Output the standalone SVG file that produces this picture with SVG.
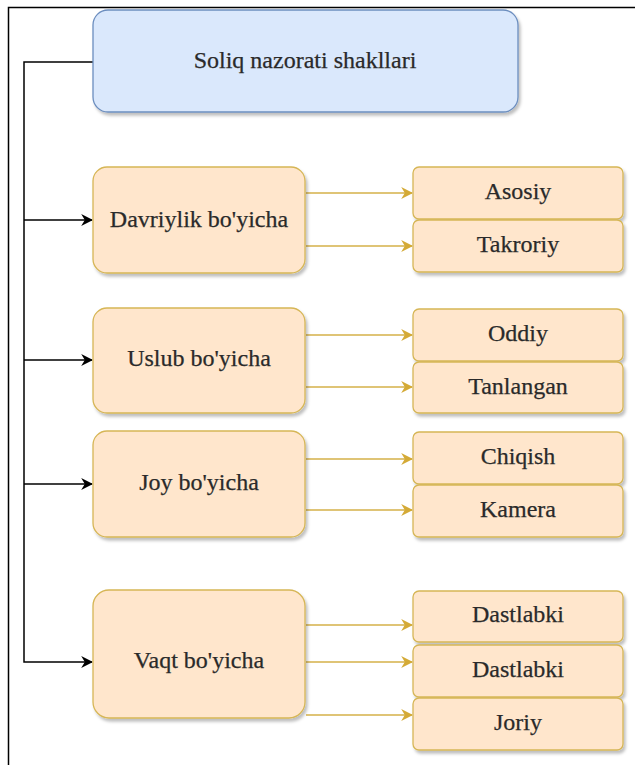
<svg xmlns="http://www.w3.org/2000/svg" width="635" height="765" viewBox="0 0 635 765">
<defs>
<filter id="sh" x="-10%" y="-10%" width="130%" height="140%">
<feDropShadow dx="2" dy="3" stdDeviation="1.5" flood-color="#000" flood-opacity="0.25"/>
</filter>
<marker id="ab" viewBox="0 0 10 10" refX="9" refY="5" markerWidth="12" markerHeight="12" markerUnits="userSpaceOnUse" orient="auto">
<path d="M0,0 L10,5 L0,10 L3,5 Z" fill="#000"/>
</marker>
<marker id="ay" viewBox="0 0 10 10" refX="9" refY="5" markerWidth="12" markerHeight="12" markerUnits="userSpaceOnUse" orient="auto">
<path d="M0,0 L10,5 L0,10 L3,5 Z" fill="#d4aa36"/>
</marker>
</defs>
<style>
.t{font-family:"Liberation Serif","Times New Roman",serif;font-size:24px;fill:#2a2a2a;stroke:#2a2a2a;stroke-width:0.25;text-anchor:middle;dominant-baseline:central}
.o{fill:#ffe6cc;stroke:#d6b656;stroke-width:1.3;filter:url(#sh)}
.b{fill:#dae8fc;stroke:#6c8ebf;stroke-width:1.3;filter:url(#sh)}
.k{fill:none;stroke:#000;stroke-width:1.5}
.y{fill:none;stroke:#d4b048;stroke-width:1.6}
</style>
<rect width="635" height="765" fill="#fff"/>
<path d="M8.5,765 V7.5 H635" fill="none" stroke="#000" stroke-width="1.5"/>
<g id="connectors">
<path class="k" d="M93,62 H24 V662 H92" marker-end="url(#ab)"/>
<path class="k" d="M24,220 H92" marker-end="url(#ab)"/>
<path class="k" d="M24,360 H92" marker-end="url(#ab)"/>
<path class="k" d="M24,484 H92" marker-end="url(#ab)"/>
<path class="y" d="M306,193 H412" marker-end="url(#ay)"/>
<path class="y" d="M306,246 H412" marker-end="url(#ay)"/>
<path class="y" d="M306,335 H412" marker-end="url(#ay)"/>
<path class="y" d="M306,387 H412" marker-end="url(#ay)"/>
<path class="y" d="M306,459 H412" marker-end="url(#ay)"/>
<path class="y" d="M306,510 H412" marker-end="url(#ay)"/>
<path class="y" d="M306,625 H412" marker-end="url(#ay)"/>
<path class="y" d="M306,662 H412" marker-end="url(#ay)"/>
<path class="y" d="M306,715 H412" marker-end="url(#ay)"/>
</g>
<g id="title"><rect class="b" x="93" y="10" width="425" height="102" rx="15"/><text class="t" x="305" y="60">Soliq nazorati shakllari</text></g>
<g id="davriylik"><rect class="o" x="93" y="167" width="212" height="106" rx="14"/><text class="t" x="199" y="219">Davriylik bo'yicha</text></g>
<g id="asosiy"><rect class="o" x="413" y="167" width="210" height="52" rx="6"/><text class="t" x="518" y="191">Asosiy</text></g>
<g id="takroriy"><rect class="o" x="413" y="220" width="210" height="52" rx="6"/><text class="t" x="518" y="244">Takroriy</text></g>
<g id="uslub"><rect class="o" x="93" y="308" width="212" height="105" rx="14"/><text class="t" x="199" y="358">Uslub bo'yicha</text></g>
<g id="oddiy"><rect class="o" x="413" y="309" width="210" height="52" rx="6"/><text class="t" x="518" y="333">Oddiy</text></g>
<g id="tanlangan"><rect class="o" x="413" y="362" width="210" height="51" rx="6"/><text class="t" x="518" y="386">Tanlangan</text></g>
<g id="joy"><rect class="o" x="93" y="431" width="212" height="106" rx="14"/><text class="t" x="199" y="482">Joy bo'yicha</text></g>
<g id="chiqish"><rect class="o" x="413" y="432" width="210" height="52" rx="6"/><text class="t" x="518" y="456">Chiqish</text></g>
<g id="kamera"><rect class="o" x="413" y="485" width="210" height="52" rx="6"/><text class="t" x="518" y="509">Kamera</text></g>
<g id="vaqt"><rect class="o" x="93" y="590" width="212" height="128" rx="16"/><text class="t" x="199" y="660">Vaqt bo'yicha</text></g>
<g id="dastlabki1"><rect class="o" x="413" y="591" width="210" height="51" rx="6"/><text class="t" x="518" y="614">Dastlabki</text></g>
<g id="dastlabki2"><rect class="o" x="413" y="645" width="210" height="52" rx="6"/><text class="t" x="518" y="669">Dastlabki</text></g>
<g id="joriy"><rect class="o" x="413" y="698" width="210" height="52" rx="6"/><text class="t" x="518" y="722">Joriy</text></g>
</svg>
